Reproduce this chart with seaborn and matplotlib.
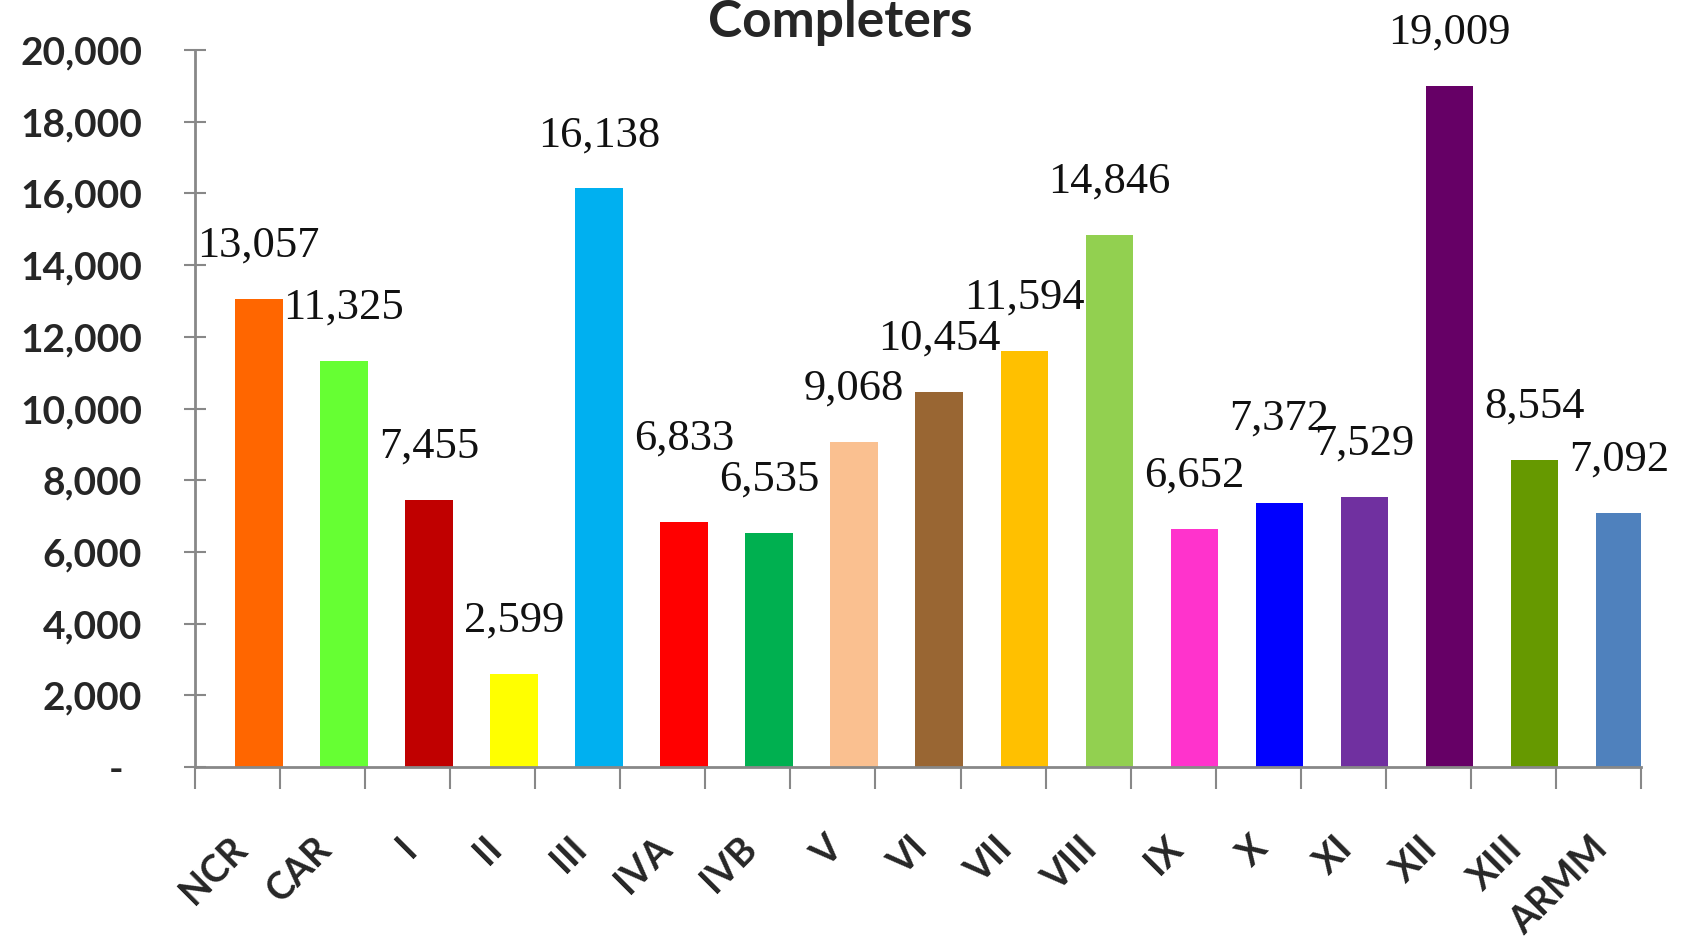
import numpy as np
import pandas as pd
import matplotlib
matplotlib.use("Agg")
import matplotlib.pyplot as plt
from matplotlib.ticker import FuncFormatter, FixedLocator
import seaborn as sns

# data
regions = ["NCR", "CAR", "I", "II", "III", "IVA", "IVB", "V", "VI", "VII",
           "VIII", "IX", "X", "XI", "XII", "XIII", "ARMM"]
completers = [13057, 11325, 7455, 2599, 16138, 6833, 6535, 9068, 10454, 11594,
              14846, 6652, 7372, 7529, 19009, 8554, 7092]
bar_colors = ["#FF6600", "#66FF33", "#C00000", "#FFFF00", "#00B0F0", "#FF0000",
              "#00B050", "#FAC090", "#996633", "#FFC000", "#92D050", "#FF33CC",
              "#0000FF", "#7030A0", "#660066", "#669900", "#4F81BD"]
y_ticks = [0, 2000, 4000, 6000, 8000, 10000, 12000, 14000, 16000, 18000, 20000]

df = pd.DataFrame({"region": regions, "completers": completers})

sns.set_style("white")
plt.rcParams["font.family"] = ["Lato", "DejaVu Sans"]

W, H = 1682, 941
fig = plt.figure(figsize=(W / 100, H / 100), dpi=100)
ax = fig.add_axes([195 / W, (H - 767) / H, (1641 - 195) / W, (767 - 50) / H])

sns.barplot(data=df, x="region", y="completers", hue="region",
            palette=bar_colors, legend=False, width=0.56, ax=ax,
            edgecolor="none", saturation=1)

n = len(regions)
ax.set_xlim(-0.75, n - 0.75)
ax.set_ylim(0, y_ticks[-1])
ax.set_xlabel("")
ax.set_ylabel("")

# value labels; lift a label when the next bar is almost the same height
for i, cont in enumerate(ax.containers):
    v = cont.datavalues[0]
    nxt = completers[i + 1] if i + 1 < n else None
    lift = 22 if nxt is not None and abs(nxt - v) < 500 else 0
    ax.bar_label(cont, labels=[f"{v:,.0f}"], padding=24 + lift, fontsize=32,
                 family="Liberation Serif", color="#111111")

# y axis
ax.yaxis.set_major_locator(FixedLocator(y_ticks))
ax.yaxis.set_major_formatter(FuncFormatter(
    lambda v, p: "-  " if v == 0 else f"{v:,.0f}"))
ax.tick_params(axis="y", which="major", left=True, direction="inout",
               length=16, width=1.5, color="#888888", labelsize=28, pad=30)
for lab in ax.get_yticklabels():
    lab.set_fontweight("bold")

# x axis: labels sit a little left of each bar, ticks between slots
ax.set_xticks(np.arange(n) - 0.35)
ax.set_xticklabels(regions, rotation=45, ha="right", rotation_mode="anchor",
                   fontsize=27, fontweight="bold")
ax.xaxis.set_minor_locator(FixedLocator(np.arange(n + 1) - 0.75))
ax.tick_params(axis="x", which="major", bottom=False, length=0, pad=46)
ax.tick_params(axis="x", which="minor", bottom=True, direction="out",
               length=16, width=1.5, color="#888888")

for side in ["top", "right"]:
    ax.spines[side].set_visible(False)
for side in ["left", "bottom"]:
    ax.spines[side].set_color("#888888")
    ax.spines[side].set_linewidth(2)

fig.text(840 / W, 1 - 37 / H, "Completers", ha="center", va="baseline",
         fontsize=37, fontweight="bold")

fig.savefig("out.png", dpi=100)
